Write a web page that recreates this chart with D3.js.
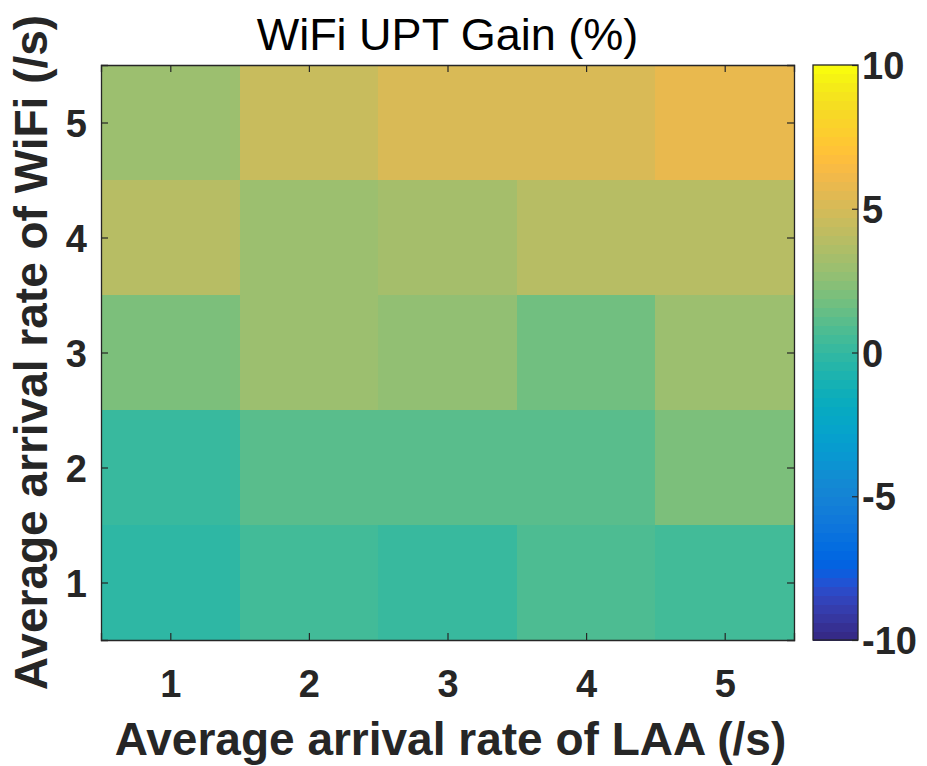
<!DOCTYPE html>
<html>
<head>
<meta charset="utf-8">
<script src="https://cdn.jsdelivr.net/npm/d3@7"></script>
<style>
  html, body { margin: 0; padding: 0; background: #fff; }
  svg { display: block; font-family: "Liberation Sans", Arial, Helvetica, sans-serif; }
</style>
</head>
<body>
<svg id="chart" width="927" height="766"></svg>
<script>
// ---- Data ----
const laaRates = [1, 2, 3, 4, 5];          // x categories
const wifiRates = [1, 2, 3, 4, 5];         // y categories
// Gain (%) per WiFi rate (row), columns = LAA rate 1..5
const gainWifi1 = [-0.2, 0.5, 0.15, 0.8, 0.45];
const gainWifi2 = [0.15, 1.1, 1.1, 1.05, 2.0];
const gainWifi3 = [2.0, 3.0, 2.5, 1.7, 3.0];
const gainWifi4 = [3.9, 3.0, 3.3, 3.9, 3.9];
const gainWifi5 = [3.0, 4.5, 5.2, 5.2, 5.8];
const gainRows = [gainWifi1, gainWifi2, gainWifi3, gainWifi4, gainWifi5];
const colorTicks = [-10, -5, 0, 5, 10];
const colorLimits = [-10, 10];
const titleText = "WiFi UPT Gain (%)";
const xLabelText = "Average arrival rate of LAA (/s)";
const yLabelText = "Average arrival rate of WiFi (/s)";

// MATLAB parula (64)
const parula = [
[0.2081,0.1663,0.5292],[0.2116,0.1898,0.5777],[0.2123,0.2138,0.6270],[0.2081,0.2386,0.6771],
[0.1959,0.2645,0.7279],[0.1707,0.2919,0.7792],[0.1253,0.3242,0.8303],[0.0591,0.3598,0.8683],
[0.0117,0.3875,0.8820],[0.0060,0.4086,0.8828],[0.0165,0.4266,0.8786],[0.0329,0.4430,0.8720],
[0.0498,0.4586,0.8641],[0.0629,0.4737,0.8554],[0.0723,0.4887,0.8467],[0.0779,0.5040,0.8384],
[0.0793,0.5200,0.8312],[0.0749,0.5375,0.8263],[0.0641,0.5570,0.8240],[0.0488,0.5772,0.8228],
[0.0343,0.5966,0.8199],[0.0265,0.6137,0.8135],[0.0239,0.6287,0.8038],[0.0231,0.6418,0.7913],
[0.0228,0.6535,0.7768],[0.0267,0.6642,0.7607],[0.0384,0.6743,0.7436],[0.0590,0.6838,0.7254],
[0.0843,0.6928,0.7062],[0.1133,0.7015,0.6859],[0.1453,0.7098,0.6646],[0.1801,0.7177,0.6424],
[0.2178,0.7250,0.6193],[0.2586,0.7317,0.5954],[0.3022,0.7376,0.5712],[0.3482,0.7424,0.5473],
[0.3953,0.7459,0.5244],[0.4420,0.7481,0.5033],[0.4871,0.7491,0.4840],[0.5300,0.7491,0.4661],
[0.5709,0.7485,0.4494],[0.6099,0.7473,0.4337],[0.6473,0.7456,0.4188],[0.6834,0.7435,0.4044],
[0.7184,0.7411,0.3905],[0.7525,0.7384,0.3768],[0.7858,0.7356,0.3633],[0.8185,0.7327,0.3498],
[0.8507,0.7299,0.3360],[0.8824,0.7274,0.3217],[0.9139,0.7258,0.3063],[0.9450,0.7261,0.2886],
[0.9739,0.7314,0.2666],[0.9938,0.7455,0.2403],[0.9990,0.7653,0.2164],[0.9955,0.7861,0.1967],
[0.9880,0.8066,0.1794],[0.9789,0.8271,0.1633],[0.9697,0.8481,0.1475],[0.9626,0.8705,0.1309],
[0.9589,0.8949,0.1132],[0.9598,0.9218,0.0948],[0.9661,0.9514,0.0755],[0.9763,0.9831,0.0538]
];
const parulaHex = parula.map(c => d3.rgb(c[0]*255, c[1]*255, c[2]*255).formatHex());
const color = d3.scaleQuantize().domain(colorLimits).range(parulaHex);

// ---- Layout ----
const svg = d3.select("#chart");
const plot = {left: 101, right: 794, top: 65, bottom: 640};
const cbar = {left: 813, right: 858, top: 65, bottom: 640};
const axisColor = "#262626";
const fmt = d => String(d);

const x = d3.scaleLinear().domain([0.5, 5.5]).range([plot.left, plot.right]);
const y = d3.scaleLinear().domain([0.5, 5.5]).range([plot.bottom, plot.top]);

// cells
const cells = [];
gainRows.forEach((row, i) => row.forEach((v, j) => cells.push({xv: laaRates[j], yv: wifiRates[i], v})));
svg.append("g").selectAll("rect").data(cells).join("rect")
  .attr("x", d => x(d.xv - 0.5))
  .attr("y", d => y(d.yv + 0.5))
  .attr("width", d => x(d.xv + 0.5) - x(d.xv - 0.5))
  .attr("height", d => y(d.yv - 0.5) - y(d.yv + 0.5))
  .attr("fill", d => color(d.v))
  .attr("shape-rendering", "crispEdges");

const tickLen = 7;
const tickFont = 38;
// axes (ticks inward)
const gx = svg.append("g").attr("transform", `translate(0,${plot.bottom})`)
  .call(d3.axisBottom(x).tickValues(laaRates).tickSize(-tickLen).tickPadding(30).tickFormat(fmt));
const gxTop = svg.append("g").attr("transform", `translate(0,${plot.top})`)
  .call(d3.axisTop(x).tickValues(laaRates).tickSize(-tickLen).tickFormat(""));
const gy = svg.append("g").attr("transform", `translate(${plot.left},0)`)
  .call(d3.axisLeft(y).tickValues(wifiRates).tickSize(-tickLen).tickPadding(14).tickFormat(fmt));
const gyR = svg.append("g").attr("transform", `translate(${plot.right},0)`)
  .call(d3.axisRight(y).tickValues(wifiRates).tickSize(-tickLen).tickFormat(""));
[gx, gxTop, gy, gyR].forEach(g => {
  g.select(".domain").attr("stroke", axisColor).attr("stroke-width", 1.3);
  g.selectAll(".tick line").attr("stroke", axisColor).attr("stroke-width", 1.2);
  g.selectAll("text").attr("fill", axisColor).attr("font-size", tickFont).attr("font-weight", "bold")
    .attr("font-family", "Liberation Sans, Arial, sans-serif");
});
gx.selectAll("text").attr("dy", "0.71em");
gy.selectAll("text").attr("dy", "0.36em");

// colorbar
const cy = d3.scaleLinear().domain(colorLimits).range([cbar.bottom, cbar.top]);
const nBands = parulaHex.length;
const bandStep = (colorLimits[1] - colorLimits[0]) / nBands;
svg.append("g").selectAll("rect").data(parulaHex).join("rect")
  .attr("x", cbar.left)
  .attr("width", cbar.right - cbar.left)
  .attr("y", (d, i) => cy(colorLimits[0] + (i + 1) * bandStep))
  .attr("height", (d, i) => cy(colorLimits[0] + i * bandStep) - cy(colorLimits[0] + (i + 1) * bandStep) + 0.5)
  .attr("fill", d => d)
  .attr("shape-rendering", "crispEdges");
svg.append("rect").attr("x", cbar.left).attr("y", cbar.top)
  .attr("width", cbar.right - cbar.left).attr("height", cbar.bottom - cbar.top)
  .attr("fill", "none").attr("stroke", axisColor).attr("stroke-width", 1.3);
const gc = svg.append("g").attr("transform", `translate(${cbar.right},0)`)
  .call(d3.axisRight(cy).tickValues(colorTicks).tickSize(-6).tickPadding(4).tickFormat(fmt));
gc.select(".domain").remove();
gc.selectAll(".tick line").attr("stroke", axisColor).attr("stroke-width", 1.2);
gc.selectAll("text").attr("fill", axisColor).attr("font-size", tickFont).attr("font-weight", "bold")
  .attr("dy", "0.36em").attr("font-family", "Liberation Sans, Arial, sans-serif");

// title & labels
svg.append("text").attr("x", (plot.left + plot.right) / 2).attr("y", 50)
  .attr("text-anchor", "middle").attr("font-size", 45).attr("fill", "#000")
  .text(titleText);
svg.append("text").attr("x", (plot.left + plot.right) / 2 + 3).attr("y", 755)
  .attr("text-anchor", "middle").attr("font-size", 46).attr("font-weight", "bold").attr("fill", axisColor)
  .text(xLabelText);
svg.append("text")
  .attr("transform", `translate(47,${(plot.top + plot.bottom) / 2}) rotate(-90)`)
  .attr("text-anchor", "middle").attr("font-size", 46).attr("font-weight", "bold").attr("fill", axisColor)
  .text(yLabelText);
</script>
</body>
</html>
